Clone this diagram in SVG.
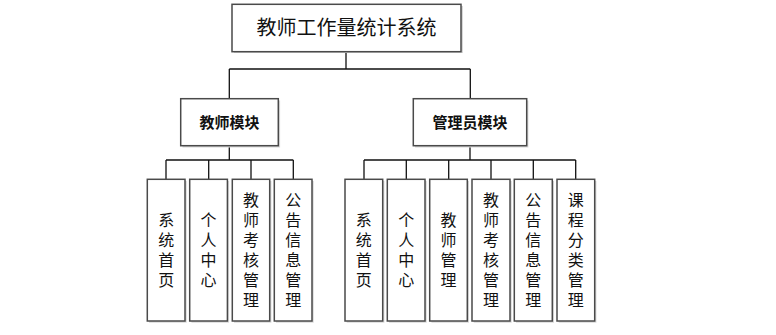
<svg xmlns="http://www.w3.org/2000/svg" width="776" height="335" viewBox="0 0 776 335">
<defs>
<style>
.box{fill:#fff;stroke:#4a4a4a;stroke-width:1.5}
.sh{fill:#d8d8d8;stroke:none}
.ln{fill:none;stroke:#111;stroke-width:1.3}
.t{font-family:"Noto Sans CJK SC","Liberation Sans",sans-serif;fill:#111;text-anchor:middle}
.lt{font-size:16px;writing-mode:vertical-rl;letter-spacing:4px}
</style>
</defs>
<rect width="776" height="335" fill="#fff"/>
<g id="connectors">
<path class="ln" d="M346,52V69M229.3,69H470.3M229.3,69V99M470.3,69V99"/>
<path class="ln" d="M229.3,146V160M166,160H293.3M166,160V179.5M208.7,160V179.5M251,160V179.5M293.3,160V179.5"/>
<path class="ln" d="M470,146V160M364,160H575.7M364,160V179.5M406.3,160V179.5M448.7,160V179.5M491,160V179.5M533.3,160V179.5M575.7,160V179.5"/>
</g>
<g id="root">
<rect class="sh" x="234" y="6" width="229" height="47"/>
<rect class="box" x="232" y="4.3" width="229" height="47.4"/>
<text class="t" x="346.5" y="35" font-size="20">教师工作量统计系统</text>
</g>
<g id="teacher-module">
<rect class="sh" x="182.5" y="100.5" width="97.6" height="47"/>
<rect class="box" x="180.7" y="98.7" width="97.6" height="47"/>
<text class="t" x="229.5" y="128" font-size="15" font-weight="bold">教师模块</text>
</g>
<g id="admin-module">
<rect class="sh" x="415" y="100.5" width="113.4" height="47"/>
<rect class="box" x="413.3" y="98.7" width="113.4" height="47"/>
<text class="t" x="470" y="128" font-size="15" font-weight="bold">管理员模块</text>
</g>
<g id="t1"><rect class="sh" x="149" y="181" width="37.7" height="141.7"/><rect class="box" x="147.3" y="179.3" width="37.7" height="141.7"/>
<text class="t lt" x="166.2" y="252">系统首页</text></g>
<g id="t2"><rect class="sh" x="191.4" y="181" width="37.7" height="141.7"/><rect class="box" x="189.7" y="179.3" width="37.7" height="141.7"/>
<text class="t lt" x="208.5" y="252">个人中心</text></g>
<g id="t3"><rect class="sh" x="234" y="181" width="37.4" height="141.7"/><rect class="box" x="232.3" y="179.3" width="37.4" height="141.7"/>
<text class="t lt" x="251" y="252">教师考核管理</text></g>
<g id="t4"><rect class="sh" x="276" y="181" width="37.7" height="141.7"/><rect class="box" x="274.3" y="179.3" width="37.7" height="141.7"/>
<text class="t lt" x="293.2" y="252">公告信息管理</text></g>
<g id="a1"><rect class="sh" x="346.7" y="181" width="37.7" height="141.7"/><rect class="box" x="345" y="179.3" width="37.7" height="141.7"/>
<text class="t lt" x="363.8" y="252">系统首页</text></g>
<g id="a2"><rect class="sh" x="389" y="181" width="37.7" height="141.7"/><rect class="box" x="387.3" y="179.3" width="37.7" height="141.7"/>
<text class="t lt" x="406.2" y="252">个人中心</text></g>
<g id="a3"><rect class="sh" x="431.4" y="181" width="37.6" height="141.7"/><rect class="box" x="429.7" y="179.3" width="37.6" height="141.7"/>
<text class="t lt" x="448.5" y="252">教师管理</text></g>
<g id="a4"><rect class="sh" x="473.7" y="181" width="38" height="141.7"/><rect class="box" x="472" y="179.3" width="38" height="141.7"/>
<text class="t lt" x="491" y="252">教师考核管理</text></g>
<g id="a5"><rect class="sh" x="516" y="181" width="38" height="141.7"/><rect class="box" x="514.3" y="179.3" width="38" height="141.7"/>
<text class="t lt" x="533.3" y="252">公告信息管理</text></g>
<g id="a6"><rect class="sh" x="558.7" y="181" width="37.7" height="141.7"/><rect class="box" x="557" y="179.3" width="37.7" height="141.7"/>
<text class="t lt" x="575.8" y="252">课程分类管理</text></g>
</svg>
